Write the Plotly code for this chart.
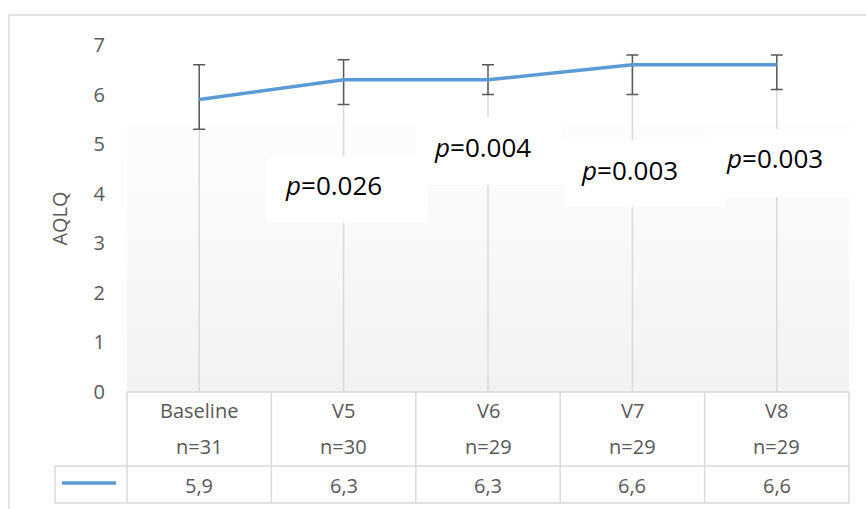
import plotly.graph_objects as go

# ---- data ----
categories = ["Baseline", "V5", "V6", "V7", "V8"]
n_values = [31, 30, 29, 29, 29]
aqlq_mean = [5.9, 6.3, 6.3, 6.6, 6.6]
err_plus = [0.7, 0.4, 0.3, 0.2, 0.2]
err_minus = [0.6, 0.5, 0.3, 0.6, 0.5]
p_labels = ["0.026", "0.004", "0.003", "0.003"]          # V5..V8 vs Baseline
y_ticks = [0, 1, 2, 3, 4, 5, 6, 7]

# ---- styling / layout config ----
W, H = 866, 509
ML, MR, MT, MB = 127, 17, 45, 117
PW, PH = W - ML - MR, H - MT - MB
GRAY = "#595959"
GRID = "#d9d9d9"
BLUE = "#5b9bd5"
FONT = "Open Sans"

def py(px):   # pixel row -> paper y
    return (H - MB - px) / PH

def pxx(px):  # pixel column -> paper x
    return (px - ML) / PW

xs = list(range(len(categories)))

fig = go.Figure()

# plot-area gradient background
fig.add_trace(go.Scatter(
    x=[-0.5, 4.5, 4.5, -0.5, -0.5], y=[0, 0, 7, 7, 0],
    fill="toself", mode="lines", line=dict(width=0),
    fillgradient=dict(type="vertical",
                      colorscale=[[0, "#f2f2f2"], [0.77, "#fdfdfd"], [0.78, "#ffffff"], [1, "#ffffff"]]),
    hoverinfo="skip", showlegend=False))

# drop lines
dx, dy = [], []
for x, v in zip(xs, aqlq_mean):
    dx += [x, x, None]
    dy += [0, v, None]
fig.add_trace(go.Scatter(x=dx, y=dy, mode="lines", line=dict(color=GRID, width=1.5),
                         hoverinfo="skip", showlegend=False))

# main series
fig.add_trace(go.Scatter(
    x=xs, y=aqlq_mean, mode="lines", line=dict(color=BLUE, width=3.5),
    error_y=dict(type="data", symmetric=False, array=err_plus, arrayminus=err_minus,
                 color=GRAY, thickness=1.5, width=6),
    showlegend=False))

shapes = []
annotations = []

# p-value boxes (white) and texts
p_boxes = [  # x0, x1, y0, y1 in data units ; text x, y
    (0.463, 1.584, 3.409, 4.761, 0.927, 4.176),
    (1.501, 2.519, 4.176, 5.548, 1.962, 4.943),
    (2.519, 3.641, 3.732, 5.084, 2.983, 4.479),
    (3.503, 4.507, 3.934, 5.306, 3.981, 4.721),
]
for (x0, x1, y0, y1, tx, ty), lab in zip(p_boxes, p_labels):
    shapes.append(dict(type="rect", xref="x", yref="y", x0=x0, x1=x1, y0=y0, y1=y1,
                       fillcolor="white", line=dict(width=0), layer="above"))
    annotations.append(dict(xref="x", yref="y", x=tx, y=ty, text=f"<i>p</i>={lab}",
                            xanchor="center", yanchor="middle", showarrow=False,
                            font=dict(family=FONT, size=26, color="black")))

# data table (paper coordinates so nothing is clipped)
tl = dict(color=GRID, width=1.5)
y_top, y_mid, y_bot = py(392), py(466), py(503)
x_leg = pxx(55)
shapes.append(dict(type="line", xref="paper", yref="paper", x0=0, x1=1, y0=y_top, y1=y_top, line=tl))
shapes.append(dict(type="line", xref="paper", yref="paper", x0=x_leg, x1=1, y0=y_mid, y1=y_mid, line=tl))
shapes.append(dict(type="line", xref="paper", yref="paper", x0=x_leg, x1=1, y0=y_bot, y1=y_bot, line=tl))
for i in range(len(categories) + 1):
    xb = i / len(categories)
    shapes.append(dict(type="line", xref="paper", yref="paper", x0=xb, x1=xb,
                       y0=y_top, y1=y_bot, line=tl))
shapes.append(dict(type="line", xref="paper", yref="paper", x0=x_leg, x1=x_leg, y0=y_mid, y1=y_bot, line=tl))
# legend key
shapes.append(dict(type="line", xref="paper", yref="paper", x0=pxx(62), x1=pxx(116),
                   y0=py(483), y1=py(483), line=dict(color=BLUE, width=3.5)))

cell_font = dict(family=FONT, size=20, color=GRAY)
for x, c, n, v in zip(xs, categories, n_values, aqlq_mean):
    annotations.append(dict(xref="x", yref="paper", x=x, y=py(410), text=c, showarrow=False,
                            xanchor="center", yanchor="middle", font=cell_font))
    annotations.append(dict(xref="x", yref="paper", x=x, y=py(447), text=f"n={n}", showarrow=False,
                            xanchor="center", yanchor="middle", font=cell_font))
    annotations.append(dict(xref="x", yref="paper", x=x, y=py(485),
                            text=f"{v:.1f}".replace(".", ","), showarrow=False,
                            xanchor="center", yanchor="middle", font=cell_font))

# outer chart border (top and left)
shapes.append(dict(type="line", xref="paper", yref="paper", x0=pxx(9), x1=pxx(W), y0=py(15), y1=py(15),
                   line=dict(color=GRID, width=1.5)))
shapes.append(dict(type="line", xref="paper", yref="paper", x0=pxx(9), x1=pxx(9), y0=py(15), y1=py(H),
                   line=dict(color=GRID, width=1.5)))

fig.update_layout(
    width=W, height=H, margin=dict(l=ML, r=MR, t=MT, b=MB),
    paper_bgcolor="white", plot_bgcolor="white",
    shapes=shapes, annotations=annotations, showlegend=False,
    xaxis=dict(range=[-0.5, 4.5], showticklabels=False, showgrid=False, zeroline=False,
               showline=False, fixedrange=True),
    yaxis=dict(range=[0, 7], tickvals=y_ticks, showgrid=False, zeroline=False, showline=False,
               ticks="", ticklabelstandoff=21,
               tickfont=dict(family=FONT, size=20, color=GRAY),
               title=dict(text="AQLQ", standoff=20, font=dict(family=FONT, size=20, color=GRAY))),
)

fig.write_html("out.html", config={"displayModeBar": False},
               post_script="document.body.style.margin='0';")
